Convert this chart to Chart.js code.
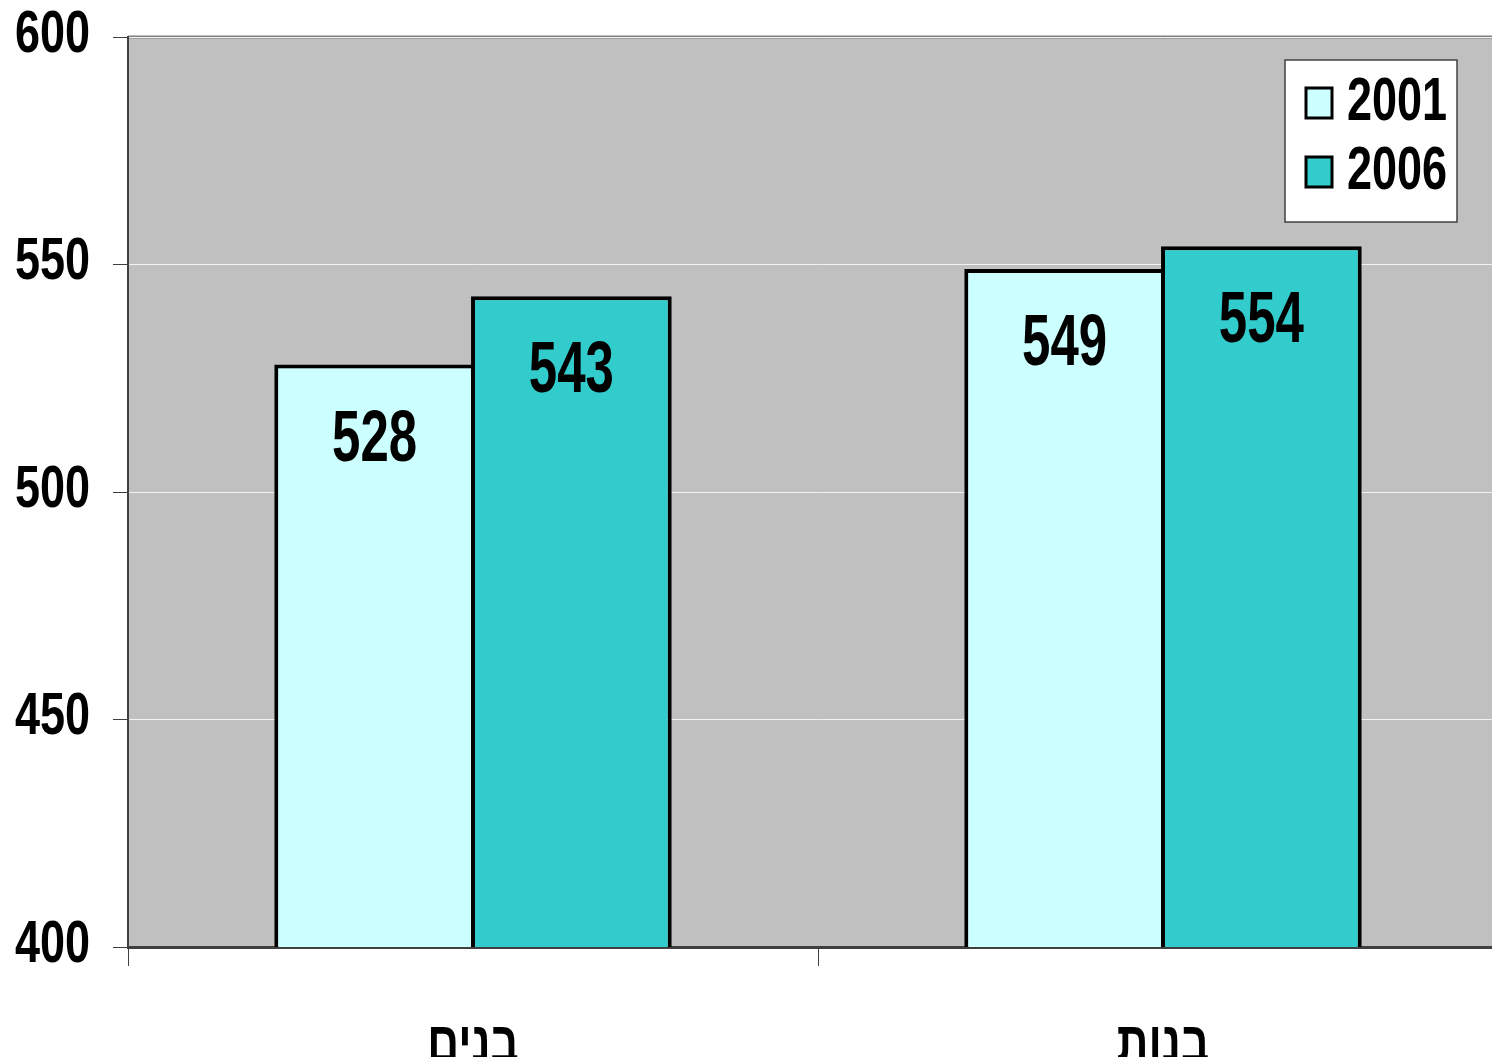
<!DOCTYPE html>
<html>
<head>
<meta charset="utf-8">
<script src="https://cdn.jsdelivr.net/npm/chart.js@4"></script>
<style>
  html, body { margin: 0; padding: 0; background: #fff; overflow: hidden; }
  #wrap { width: 1508px; height: 1057px; }
</style>
</head>
<body>
<div id="wrap"><canvas id="barChart"></canvas></div>
<script>
const categories = ["בנים", "בנות"];
const years = ["2001", "2006"];
const values2001 = [528, 549];
const values2006 = [543, 554];
const yTicks = [400, 450, 500, 550, 600];

const FONT = '"Liberation Sans", Arial, "DejaVu Sans", sans-serif';

// narrow bold text: draw with a horizontal/vertical stretch
function narrowText(ctx, text, x, y, size, sx, sy, align, baseline) {
  ctx.save();
  ctx.font = "bold " + size + "px " + FONT;
  ctx.textAlign = align;
  ctx.textBaseline = baseline;
  ctx.fillStyle = "#000";
  ctx.translate(x, y);
  ctx.scale(sx, sy);
  ctx.fillText(text, 0, 0);
  ctx.restore();
}

// gray plot background + top border
const plotBackground = {
  id: "plotBackground",
  beforeDraw(chart) {
    const { ctx, chartArea: a } = chart;
    ctx.save();
    ctx.fillStyle = "#C0C0C0";
    ctx.fillRect(a.left, a.top, a.right - a.left, a.bottom - a.top);
    ctx.strokeStyle = "#808080";
    ctx.lineWidth = 3;
    ctx.beginPath();
    ctx.moveTo(a.left, a.top);
    ctx.lineTo(a.right, a.top);
    ctx.stroke();
    ctx.restore();
  },
};

// axis labels drawn in a narrow style
const axisLabels = {
  id: "axisLabels",
  afterDraw(chart) {
    const { ctx } = chart;
    const y = chart.scales.y, x = chart.scales.x;
    yTicks.forEach(v => {
      narrowText(ctx, String(v), 90, y.getPixelForValue(v) - 2, 50, 0.9, 1.2, "right", "middle");
    });
    categories.forEach((c, i) => {
      narrowText(ctx, c, x.getPixelForValue(i), 1062, 52, 0.85, 1.1, "center", "alphabetic");
    });
  },
};

// value labels inside the bars
const valueLabels = {
  id: "valueLabels",
  afterDatasetsDraw(chart) {
    const { ctx } = chart;
    chart.data.datasets.forEach((ds, i) => {
      chart.getDatasetMeta(i).data.forEach((bar, j) => {
        narrowText(ctx, String(ds.data[j]), bar.x, bar.y + 76, 60, 0.85, 1.21, "center", "middle");
      });
    });
  },
};

// legend box in the top right
const legendBox = {
  id: "legendBox",
  afterDraw(chart) {
    const { ctx } = chart;
    const x = 1285, y = 60, w = 172, h = 162;
    ctx.save();
    ctx.fillStyle = "#fff";
    ctx.fillRect(x, y, w, h);
    ctx.strokeStyle = "#404040";
    ctx.lineWidth = 1.5;
    ctx.strokeRect(x, y, w, h);
    chart.data.datasets.forEach((ds, i) => {
      const cy = y + 43 + i * 69;
      ctx.fillStyle = ds.backgroundColor;
      ctx.fillRect(1306, cy - 15, 26, 30);
      ctx.strokeStyle = "#000";
      ctx.lineWidth = 3;
      ctx.strokeRect(1306, cy - 15, 26, 30);
      narrowText(ctx, ds.label, 1347, cy, 50, 0.9, 1.22, "left", "middle");
    });
    ctx.restore();
  },
};

const barChart = document.querySelector("#barChart");
const graph = new Chart(barChart, {
  type: "bar",
  data: {
    labels: categories,
    datasets: [
      {
        label: years[0],
        data: values2001,
        backgroundColor: "#CCFFFF",
        borderColor: "#000000",
        borderWidth: 4,
        borderSkipped: false,
      },
      {
        label: years[1],
        data: values2006,
        backgroundColor: "#33CCCC",
        borderColor: "#000000",
        borderWidth: 4,
        borderSkipped: false,
      },
    ],
  },
  options: {
    responsive: true,
    maintainAspectRatio: false,
    animation: false,
    devicePixelRatio: 1,
    // slight overlap so the shared edge of paired bars is a single line
    categoryPercentage: 0.5703,
    barPercentage: 1.02,
    layout: { padding: { top: 37, left: 0, right: 0, bottom: 0 } },
    plugins: {
      legend: { display: false },
      tooltip: { enabled: false },
    },
    scales: {
      x: {
        grid: {
          drawOnChartArea: false,
          drawTicks: true,
          tickLength: 19,
          tickColor: "#404040",
          offset: true,
        },
        border: { color: "#404040", width: 3 },
        ticks: { display: false },
        afterFit(scale) {
          scale.height = 110;
          scale.paddingLeft = 0;
          scale.paddingRight = 0;
        },
      },
      y: {
        min: 400,
        max: 600,
        afterBuildTicks(scale) { scale.ticks = yTicks.map(v => ({ value: v })); },
        grid: {
          color: "#F2F2F2",
          lineWidth: 1,
          drawTicks: true,
          tickLength: 15,
          tickColor: "#404040",
        },
        border: { color: "#404040", width: 2 },
        ticks: { display: false },
        afterFit(scale) {
          scale.width = 128;
          scale.paddingTop = 0;
          scale.paddingBottom = 0;
        },
      },
    },
  },
  plugins: [plotBackground, valueLabels, axisLabels, legendBox],
});
</script>
</body>
</html>
